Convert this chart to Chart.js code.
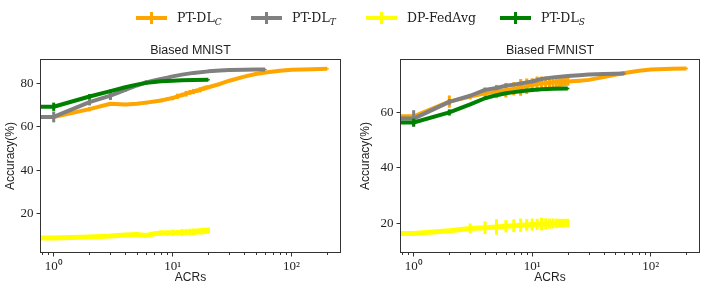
<!DOCTYPE html>
<html><head><meta charset="utf-8">
<script src="https://cdn.jsdelivr.net/npm/chart.js@4.4.1/dist/chart.umd.min.js"></script>
<style>
html,body{margin:0;padding:0;background:#fff;width:706px;height:290px;overflow:hidden;}
#wrap{position:relative;width:706px;height:290px;}
#c1{position:absolute;left:0;top:0;}
#c2{position:absolute;left:355px;top:0;}
#legend{position:absolute;left:0;top:9px;width:706px;height:17px;z-index:2;
  font-family:"DejaVu Serif",serif;font-size:12.5px;color:#222;white-space:nowrap;}
.item{position:absolute;top:0;height:17px;display:flex;align-items:center;}
.mk{position:relative;width:31px;height:12px;margin-right:10px;}
.mk .h{position:absolute;left:0;top:4px;width:31px;height:4px;}
.mk .v{position:absolute;left:14px;top:0;width:3px;height:12px;}
sub{font-size:9px;vertical-align:-3px;line-height:0;}
</style></head>
<body><div id="wrap">
<canvas id="c1" width="355" height="290"></canvas>
<canvas id="c2" width="351" height="290"></canvas>
<div id="legend"></div>
</div>
<script>
// ---- series meta ----
const seriesNames  = ['PT-DL_C', 'PT-DL_T', 'DP-FedAvg', 'PT-DL_S'];
const seriesColors = ['#FFA500', '#808080', '#FFFF00', '#008000'];

// ---- axis ticks ----
const xMajorTicks = [1, 10, 100];
const xMinorTicks = [0.8, 0.9, 2, 3, 4, 5, 6, 7, 8, 9, 20, 30, 40, 50, 60, 70, 80, 90, 200];
const yTicksMNIST  = [20, 40, 60, 80];
const yTicksFMNIST = [20, 40, 60];

// ---- Biased MNIST ----
const acrsC_M = [0,1,2,3,4,5,6,7,8,9,10,11,12,13,14,15,16,17,18,19,20,25,30,40,50,60,80,100,150,200];
const accC_M  = [64.5,64.5,68.1,70.6,70.2,70.6,71.1,71.6,72.1,72.7,73.2,74.0,74.6,75.2,75.8,76.2,76.6,77.0,77.5,77.9,78.2,79.7,81.2,83.1,84.3,85.0,85.8,86.2,86.5,86.7];
const errC_M  = [0,0.5,1.0,0.4,0.4,0.5,0.8,0.7,0.8,0.8,1.0,1.2,1.0,1.3,1.1,1.2,1.0,1.2,1.0,1.1,0.9,0.6,0.5,0.4,0.3,0.3,0.3,0.3,0.3,0.3];

const acrsT_M = [0,1,2,3,4,5,6,7,8,9,10,12,15,20,25,30,40,50,60];
const accT_M  = [64.5,64.5,71.3,74.3,77.0,79.0,80.4,81.3,82.0,82.6,83.2,84.0,84.8,85.5,85.9,86.1,86.3,86.4,86.4];
const errT_M  = [0,2.5,1.5,2.0,0.8,0.5,1.0,0.4,0.5,0.4,0.4,0.3,0.3,0.3,0.3,0.3,0.3,0.3,0.3];

const acrsD_M = [0,1,2,3,4,5,6,7,8,9,10,11,12,13,14,15,16,17,18,19,20];
const accD_M  = [8.7,8.7,9.2,9.6,10.1,10.3,9.9,10.7,11.0,11.0,11.1,11.2,11.3,11.4,11.5,11.6,11.7,11.8,11.9,12.0,12.1];
const errD_M  = [0,0.5,0.6,0.3,0.5,0.3,0.5,0.3,1.2,1.3,1.5,1.3,1.6,1.4,1.5,1.5,1.4,1.5,1.5,1.4,1.5];

const acrsS_M = [0,1,2,3,4,5,6,7,8,9,10,12,15,20];
const accS_M  = [69.2,69.2,73.9,76.4,78.2,79.4,80.2,80.6,80.9,81.1,81.2,81.4,81.5,81.6];
const errS_M  = [0,1.9,1.1,0.7,0.5,0.4,0.3,0.3,0.3,0.3,0.3,0.3,0.3,0.3];

// ---- Biased FMNIST ----
const acrsC_F = [0,1,2,3,4,5,6,7,8,9,10,11,12,13,14,15,16,17,18,19,20,25,30,40,50,60,80,100,150,200];
const accC_F  = [58.5,58.5,63.8,65.6,66.8,67.4,67.9,68.4,68.9,69.3,69.7,70.1,70.3,70.5,70.6,70.7,70.8,70.8,70.9,70.9,71.0,71.3,71.6,72.6,73.4,74.1,74.9,75.3,75.6,75.7];
const errC_F  = [0,1.0,2.2,1.0,2.0,2.4,2.6,2.4,3.0,2.8,2.5,2.7,2.5,2.3,2.2,2.0,1.9,1.8,1.7,1.6,1.5,0.6,0.5,0.5,0.4,0.4,0.3,0.3,0.3,0.3];

const acrsT_F = [0,1,2,3,4,5,6,7,8,9,10,12,15,20,25,30,40,50,60];
const accT_F  = [57.7,57.7,63.7,65.9,68.0,68.7,69.5,69.9,70.3,70.7,71.0,71.9,72.5,73.0,73.3,73.5,73.7,73.8,73.9];
const errT_F  = [0,3.0,1.0,0.5,0.8,0.8,0.7,0.5,0.5,0.4,0.4,0.4,0.3,0.3,0.3,0.3,0.3,0.3,0.3];

const acrsD_F = [0,1,2,3,4,5,6,7,8,9,10,11,12,13,14,15,16,17,18,19,20];
const accD_F  = [16.4,16.4,17.4,18.2,18.5,18.75,19.0,19.2,19.4,19.5,19.6,19.7,19.8,19.9,19.95,20.0,20.05,20.1,20.15,20.2,20.2];
const errD_F  = [0,0.5,0.3,1.8,2.3,2.8,2.2,2.3,2.4,2.1,2.2,2.0,2.3,2.0,1.8,1.8,1.7,1.6,1.5,1.5,1.5];

const acrsS_F = [0,1,2,3,4,5,6,7,8,9,10,12,15,20];
const accS_F  = [56.3,56.3,59.9,62.8,65.0,66.1,66.8,67.2,67.5,67.8,68.0,68.2,68.4,68.5];
const errS_F  = [0,1.4,1.1,0.5,0.4,0.3,0.3,0.3,0.3,0.3,0.3,0.3,0.3,0.3];

// ---- legend (HTML) ----
const legendLeft = [136, 251, 366, 500];
const leg = document.getElementById('legend');
seriesNames.forEach((n, i) => {
  const it = document.createElement('div'); it.className = 'item';
  it.style.left = legendLeft[i] + 'px';
  const mk = document.createElement('div'); mk.className = 'mk';
  mk.innerHTML = '<div class="h" style="background:' + seriesColors[i] + '"></div><div class="v" style="background:' + seriesColors[i] + '"></div>';
  const tx = document.createElement('span');
  tx.innerHTML = n.replace(/_(\w)$/, '<sub><i>$1</i></sub>');
  it.appendChild(mk); it.appendChild(tx); leg.appendChild(it);
});

// ---- helpers ----
const SUP = {'0':'\u2070','1':'\u00B9','2':'\u00B2','3':'\u00B3','-':'\u207B'};
const supStr = s => String(s).split('').map(c => SUP[c] || c).join('');
const LOG_ZERO = 1e-3; // non-positive x is clipped on the log axis, as in matplotlib
const sansFamily = '"Liberation Sans", Arial, sans-serif';

function makeDataset(i, xs, ys, errs, order) {
  return {
    label: seriesNames[i],
    data: xs.map((x, k) => ({x: x > 0 ? x : LOG_ZERO, y: ys[k]})),
    borderColor: seriesColors[i],
    backgroundColor: seriesColors[i],
    borderWidth: i === 2 ? 5 : 4,
    borderJoinStyle: 'round',
    tension: 0,
    order: order,
    clip: {left: 0, right: false, top: false, bottom: false},
    pointStyle: 'line',
    pointRotation: 90,
    pointBorderWidth: 3,
    pointBorderColor: seriesColors[i],
    pointBackgroundColor: seriesColors[i],
    pointRadius: ctx => {
      if (ctx.type !== 'data') return 0;
      const e = errs[ctx.dataIndex];
      if (!e) return 0;
      const ys = ctx.chart.scales.y;
      const v = ctx.raw.y;
      return Math.abs(ys.getPixelForValue(v + e) - ys.getPixelForValue(v));
    }
  };
}

const boxPlugin = {
  id: 'boxAndMinor',
  afterDatasetsDraw(chart, args, opts) {
    const {ctx, chartArea: a, scales: {x}} = chart;
    ctx.save();
    ctx.strokeStyle = '#333';
    ctx.lineWidth = 1;
    const l = Math.round(a.left) + 0.5, t = Math.round(a.top) + 0.5;
    const r = Math.round(a.right) - 0.5, b = Math.round(a.bottom) - 0.5;
    ctx.strokeRect(l, t, r - l, b - t);
    ctx.beginPath();
    xMinorTicks.forEach(v => {
      if (v < x.min || v > x.max) return;
      const px = Math.round(x.getPixelForValue(v)) + 0.5;
      ctx.moveTo(px, b); ctx.lineTo(px, b + 2.5);
    });
    ctx.stroke();
    // axes title, centred over the plot area
    ctx.fillStyle = '#222';
    ctx.font = '12.5px ' + sansFamily;
    ctx.textAlign = 'center';
    ctx.textBaseline = 'alphabetic';
    ctx.fillText(opts.text, (a.left + a.right) / 2, a.top - 4.7);
    ctx.restore();
  }
};

function makeChart(id, title, yMin, yMax, yTicks, datasets, yWidth, padRight) {
  const serif = {family: '"Liberation Serif", serif', size: 13};
  return new Chart(document.getElementById(id), {
    type: 'line',
    data: {datasets},
    plugins: [boxPlugin],
    options: {
      responsive: false, animation: false, events: [], devicePixelRatio: 1,
      layout: {padding: {left: 0, right: padRight, top: 59, bottom: 0}},
      plugins: {
        legend: {display: false},
        tooltip: {enabled: false},
        title: {display: false},
        boxAndMinor: {text: title}
      },
      scales: {
        x: {
          type: 'logarithmic', min: 0.767, max: 260.6, position: 'bottom',
          afterBuildTicks: s => { s.ticks = xMajorTicks.map(v => ({value: v})); },
          afterFit: s => { s.height = 37; },
          ticks: {callback: v => '10' + supStr(Math.round(Math.log10(v))), font: serif, color: '#222',
                  padding: 2, maxRotation: 0, autoSkip: false},
          grid: {drawOnChartArea: false, drawTicks: true, tickLength: 3.5, tickColor: '#333', tickWidth: 1},
          border: {display: false},
          title: {display: true, text: 'ACRs', font: {family: sansFamily, size: 12, weight: 'normal'}, color: '#222',
                  padding: {top: 0, bottom: 5}}
        },
        y: {
          type: 'linear', min: yMin, max: yMax,
          afterBuildTicks: s => { s.ticks = yTicks.map(v => ({value: v})); },
          afterFit: s => { s.width = yWidth; },
          ticks: {font: serif, color: '#222', padding: 3},
          grid: {drawOnChartArea: false, drawTicks: true, tickLength: 3.5, tickColor: '#333', tickWidth: 1},
          border: {display: false},
          title: {display: true, text: 'Accuracy(%)', font: {family: sansFamily, size: 12, weight: 'normal'}, color: '#222',
                  padding: {top: 3.6, bottom: 0}}
        }
      }
    }
  });
}

makeChart('c1', 'Biased MNIST', 1.8, 91.2, yTicksMNIST, [
  makeDataset(0, acrsC_M, accC_M, errC_M, 4),
  makeDataset(1, acrsT_M, accT_M, errT_M, 3),
  makeDataset(2, acrsD_M, accD_M, errD_M, 2),
  makeDataset(3, acrsS_M, accS_M, errS_M, 1)
], 40, 14);

makeChart('c2', 'Biased FMNIST', 9.4, 79.1, yTicksFMNIST, [
  makeDataset(0, acrsC_F, accC_F, errC_F, 4),
  makeDataset(1, acrsT_F, accT_F, errT_F, 3),
  makeDataset(2, acrsD_F, accD_F, errD_F, 2),
  makeDataset(3, acrsS_F, accS_F, errS_F, 1)
], 45, 6);
</script>
</body></html>
